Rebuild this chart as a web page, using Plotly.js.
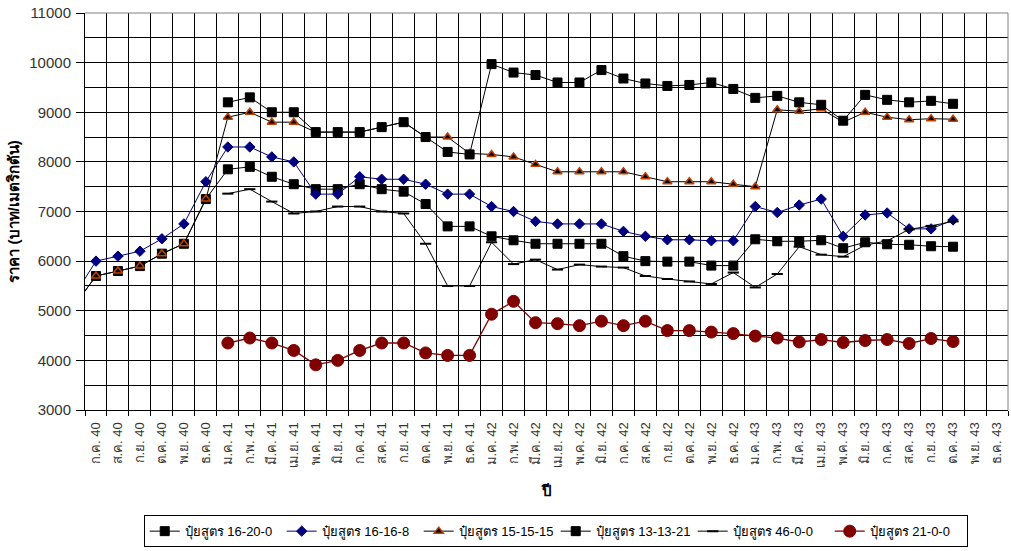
<!DOCTYPE html>
<html>
<head>
<meta charset="utf-8">
<script src="https://cdn.plot.ly/plotly-3.0.1.min.js"></script>
<style>html,body{margin:0;padding:0;background:#fff;}#chart{width:1011px;height:551px;}</style>
</head>
<body>
<div id="chart"></div>
<script>
// Month labels (Thai), ก.ค. 40 .. ธ.ค. 43
const monthLabels = [
  "ก.ค. 40","ส.ค. 40","ก.ย. 40","ต.ค. 40","พ.ย. 40","ธ.ค. 40",
  "ม.ค. 41","ก.พ. 41","มี.ค. 41","เม.ย. 41","พ.ค. 41","มิ.ย. 41","ก.ค. 41","ส.ค. 41","ก.ย. 41","ต.ค. 41","พ.ย. 41","ธ.ค. 41",
  "ม.ค. 42","ก.พ. 42","มี.ค. 42","เม.ย. 42","พ.ค. 42","มิ.ย. 42","ก.ค. 42","ส.ค. 42","ก.ย. 42","ต.ค. 42","พ.ย. 42","ธ.ค. 42",
  "ม.ค. 43","ก.พ. 43","มี.ค. 43","เม.ย. 43","พ.ค. 43","มิ.ย. 43","ก.ค. 43","ส.ค. 43","ก.ย. 43","ต.ค. 43","พ.ย. 43","ธ.ค. 43"
];
// value for the month before the first label (มิ.ย. 40), only its line segment shows
const prevMonthLabel = "มิ.ย. 40";

const s16_20_0 = [5100, 5700,5800,5900,6150,6350,7250,
  7850,7900,7700,7550,7450,7450,7550,7450,7400,7150,6700,6700,
  6500,6420,6350,6350,6350,6350,6100,6000,5990,5990,5910,5910,
  6440,6400,6400,6420,6260,6380,6340,6330,6300,6290,null,null];
const s16_16_8 = [5300, 6000,6100,6200,6450,6750,7600,
  8300,8300,8100,8000,7350,7350,7700,7650,7650,7550,7350,7350,
  7100,7000,6800,6750,6750,6750,6600,6500,6430,6430,6410,6410,
  7100,6980,7130,7250,6500,6930,6970,6650,6650,6830,null,null];
const s15_15_15 = [5100, 5700,5800,5900,6150,6350,7250,
  8900,9000,8800,8800,8600,8600,8600,8700,8800,8500,8500,8170,
  8150,8100,7950,7800,7800,7800,7800,7700,7600,7600,7600,7550,
  7500,9050,9020,9070,8800,9000,8900,8850,8870,8860,null,null];
const s13_13_21 = [null, null,null,null,null,null,null,
  9200,9300,9000,9000,8600,8600,8600,8700,8800,8500,8200,8150,
  9970,9800,9750,9600,9600,9850,9680,9580,9530,9550,9600,9470,
  9290,9330,9200,9150,8830,9350,9250,9200,9230,9170,null,null];
const s46_0_0 = [null, null,null,null,null,null,null,
  7360,7450,7200,6960,7000,7100,7100,7000,6960,6350,5500,5500,
  6380,5940,6030,5830,5930,5890,5870,5700,5640,5590,5540,5770,
  5470,5740,6290,6130,6090,6320,6410,6640,6710,6800,null,null];
const s21_0_0 = [null, null,null,null,null,null,null,
  4350,4450,4350,4200,3910,4000,4200,4350,4350,4150,4100,4100,
  4930,5190,4760,4740,4700,4790,4700,4790,4600,4600,4570,4540,
  4490,4450,4370,4420,4360,4400,4420,4340,4440,4380,null,null];

const seriesNames = ["ปุ๋ยสูตร 16-20-0","ปุ๋ยสูตร 16-16-8","ปุ๋ยสูตร 15-15-15","ปุ๋ยสูตร 13-13-21","ปุ๋ยสูตร 46-0-0","ปุ๋ยสูตร 21-0-0"];
const yTicks = [3000,4000,5000,6000,7000,8000,9000,10000,11000];
const yTickText = ["3000","4000","5000","6000","7000","8000","9000","10000","11000"];

const xs = [-1].concat(monthLabels.map((_, i) => i));
const allLabels = [prevMonthLabel].concat(monthLabels);

const FONT = "Liberation Sans, Arial, Tahoma, sans-serif";

function tr(name, y, line, marker) {
  return {x: xs, y: y, name: name, type: 'scatter', mode: 'lines+markers',
    text: allLabels, hoverinfo: 'text+y+name',
    line: line, marker: marker, connectgaps: false};
}

const data = [
  tr(seriesNames[0], s16_20_0, {color:'#000000', width:1}, {symbol:'square', size:9, color:'#000000', line:{color:'#000000', width:1}}),
  tr(seriesNames[1], s16_16_8, {color:'#000080', width:1}, {symbol:'diamond', size:8, color:'#000080', line:{color:'#000080', width:1}}),
  tr(seriesNames[2], s15_15_15, {color:'#000000', width:1}, {symbol:'triangle-up', size:8, color:'#000000', line:{color:'#C04000', width:1.5}}),
  tr(seriesNames[3], s13_13_21, {color:'#000000', width:1}, {symbol:'square', size:9, color:'#000000', line:{color:'#000000', width:1}}),
  tr(seriesNames[4], s46_0_0, {color:'#000000', width:1}, {symbol:'line-ew', size:8, color:'#000000', line:{color:'#000000', width:2}}),
  tr(seriesNames[5], s21_0_0, {color:'#800000', width:1.3}, {symbol:'circle', size:12, color:'#800000', line:{color:'#800000', width:1}})
];

const layout = {
  width: 1011, height: 551,
  margin: {l:85, r:3, t:13, b:141, pad:0},
  paper_bgcolor: '#ffffff', plot_bgcolor: '#ffffff',
  font: {family: FONT, color: '#333333'},
  showlegend: true,
  xaxis: {
    range: [-0.5, 41.5], autorange: false,
    tickmode: 'array', tickvals: monthLabels.map((_, i) => i), ticktext: monthLabels,
    tickangle: -90, tickfont: {size: 13, color:'#333333', family: FONT},
    ticklabelstandoff: 6,
    ticks: '', showgrid: false, zeroline: false,
    showline: true, linecolor: '#000000', linewidth: 1,
    minor: {tickmode:'linear', tick0: -0.5, dtick: 1, showgrid: true, gridcolor: '#000000', gridwidth: 1, ticks:'outside', ticklen: 5, tickcolor:'#000000'},
    title: {text: 'ปี', font: {size: 15, color:'#000000', family: FONT, weight: 'bold'}, standoff: 18}
  },
  yaxis: {
    range: [3000, 11000], autorange: false,
    tickmode: 'array', tickvals: yTicks, ticktext: yTickText,
    tickfont: {size: 15, color:'#333333', family: FONT},
    ticks: 'outside', ticklen: 8, tickcolor: '#000000',
    ticklabelstandoff: 2,
    showgrid: true, gridcolor: '#000000', gridwidth: 1, zeroline: false,
    showline: true, linecolor: '#000000', linewidth: 1,
    minor: {tickmode:'linear', tick0: 3500, dtick: 1000, showgrid: true, gridcolor: '#000000', gridwidth: 1},
    title: {text: 'ราคา (บาท/เมตริกตัน)', font: {size: 15, color:'#000000', family: FONT, weight: 'bold'}, standoff: 6}
  },
  legend: {
    orientation: 'h', x: 0.51, xanchor: 'center', y: -0.265, yanchor: 'top',
    bordercolor: '#000000', borderwidth: 1, bgcolor: '#ffffff',
    font: {size: 13, color: '#000000', family: FONT},
    traceorder: 'normal', entrywidth: 92, entrywidthmode: 'pixels'
  },
  shapes: [
    {type:'line', xref:'paper', yref:'paper', x0:0, x1:1, y0:1, y1:1, line:{color:'#808080', width:1}},
    {type:'line', xref:'paper', yref:'paper', x0:1, x1:1, y0:0, y1:1, line:{color:'#808080', width:1}}
  ]
};

Plotly.newPlot('chart', data, layout, {displayModeBar: false, staticPlot: true});
</script>
</body>
</html>
